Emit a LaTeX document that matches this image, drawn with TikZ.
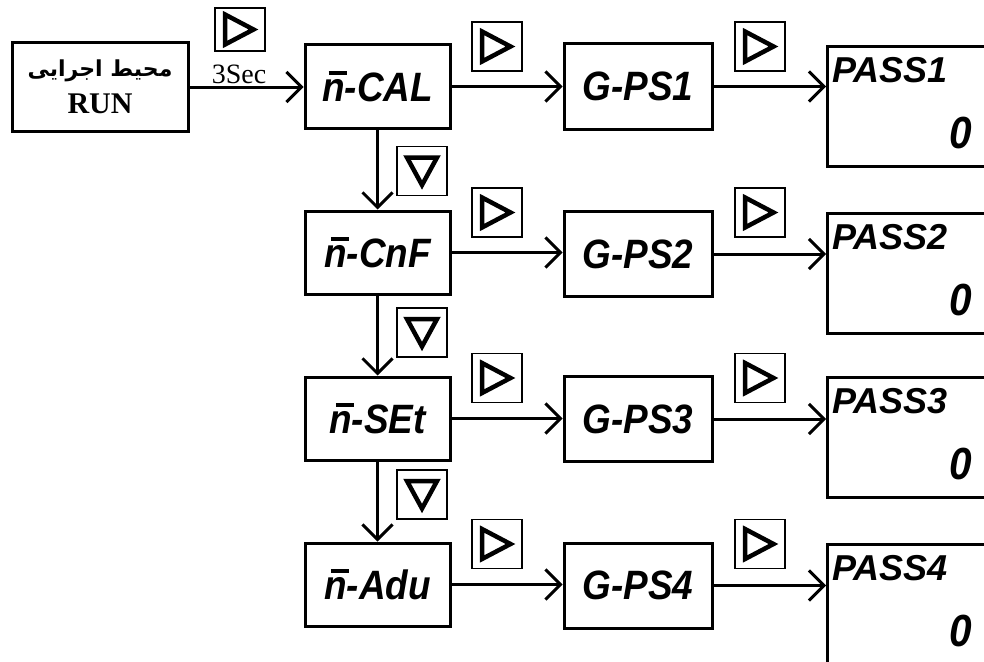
\documentclass[tikz,border=0pt]{standalone}
\usepackage{fontspec}
\usetikzlibrary{arrows.meta,calc}
\TeXXeTstate=1
\setmainfont{Liberation Serif}
\newfontfamily\segfont[FakeStretch=0.9]{Liberation Sans}
\newfontfamily\passfont{Liberation Sans}
\newfontfamily\arabicfont[Script=Arabic]{DejaVu Sans}
\newcommand\mbar{\leavevmode\rlap{\kern0.16em\raisebox{0.66em}{\rule{0.44em}{0.085em}}}n}
\newcommand\rtri[1]{\draw[tri] ([shift={(-15,-15)}]#1.center) -- ([shift={(-15,15)}]#1.center) -- ([shift={(13.5,0)}]#1.center) -- cycle;}
\newcommand\dtri[1]{\draw[tri] ([shift={(-15,-13.5)}]#1.center) -- ([shift={(15,-13.5)}]#1.center) -- ([shift={(0,14)}]#1.center) -- cycle;}
\begin{document}
\begin{tikzpicture}[x=1pt,y=-1pt,
  box/.style={draw, line width=3pt, inner sep=0pt},
  seg/.style={font=\segfont\bfseries\itshape\fontsize{41}{41}\selectfont},
  mbox/.style={box, seg, minimum width=145pt, minimum height=83pt},
  gbox/.style={box, seg, minimum width=148pt, minimum height=85pt},
  pbox/.style={box, anchor=north west, minimum width=190pt, minimum height=120pt},
  ptext/.style={inner sep=0pt, font=\passfont\bfseries\itshape\fontsize{36}{36}\selectfont},
  ztext/.style={inner sep=0pt, font=\segfont\bfseries\itshape\fontsize{45}{45}\selectfont},
  btn/.style={draw=black, line width=1.3pt, minimum width=50pt, minimum height=49pt, inner sep=0pt},
  tri/.style={line width=4.5pt, line join=miter},
  conn/.style={line width=3pt, -{Straight Barb[length=15pt,width=30pt]}},
]
\clip (0,0) rectangle (984,661);
\fill[white] (0,0) rectangle (984,661);

% RUN box
\node[box, minimum width=176pt, minimum height=88pt, align=center] (run) at (100,87)
  {{\arabicfont\bfseries\fontsize{22}{24}\selectfont\beginR محیط اجرایی\endR}\\[11pt]
   {\bfseries\fontsize{30}{30}\selectfont RUN}};

% menu column
\node[mbox] (m1) at (377.5,86.5) {\mbar-CAL};
\node[mbox] (m2) at (377.5,252.5) {\mbar-CnF};
\node[mbox] (m3) at (377.5,418.5) {\mbar-SEt};
\node[mbox] (m4) at (377.5,584.5) {\mbar-Adu};

% G column
\node[gbox] (g1) at (638,86.5) {G-PS1};
\node[gbox] (g2) at (638,254) {G-PS2};
\node[gbox] (g3) at (638,419) {G-PS3};
\node[gbox] (g4) at (638,585.5) {G-PS4};

% PASS column
\node[pbox] (p1) at (826,45) {};
\node[pbox] (p2) at (826,212) {};
\node[pbox] (p3) at (826,376) {};
\node[pbox] (p4) at (826,543) {};
\node[ptext, anchor=west] (p1t) at (832,70) {PASS1};
\node[ptext, anchor=west] (p2t) at (832,237) {PASS2};
\node[ptext, anchor=west] (p3t) at (832,401) {PASS3};
\node[ptext, anchor=west] (p4t) at (832,568) {PASS4};
\node[ztext, anchor=east] (p1z) at (972,133) {0};
\node[ztext, anchor=east] (p2z) at (972,300) {0};
\node[ztext, anchor=east] (p3z) at (972,464) {0};
\node[ztext, anchor=east] (p4z) at (972,631) {0};

% connectors
\draw[conn] (run.east) -- (run.east -| m1.west);
\draw[conn] (m1.east) -- (g1.west);
\draw[conn] (m2.east) -- (m2.east -| g2.west);
\draw[conn] (m3.east) -- (m3.east -| g3.west);
\draw[conn] (m4.east) -- (m4.east -| g4.west);
\draw[conn] (g1.east) -- (g1.east -| p1.west);
\draw[conn] (g2.east) -- (g2.east -| p2.west);
\draw[conn] (g3.east) -- (g3.east -| p3.west);
\draw[conn] (g4.east) -- (g4.east -| p4.west);
\draw[conn] (m1.south) -- (m2.north);
\draw[conn] (m2.south) -- (m3.north);
\draw[conn] (m3.south) -- (m4.north);

% buttons
\node[btn, minimum height=43pt] (b0) at (240,29.5) {};
\node[font=\fontsize{28}{28}\selectfont, inner sep=0pt] (sec) at (239,74) {3Sec};
\node[btn] (r11) at (497,46.5) {};
\node[btn] (r12) at (760,46.5) {};
\node[btn] (r21) at (497,212.5) {};
\node[btn] (r22) at (760,212.5) {};
\node[btn] (r31) at (497,378) {};
\node[btn] (r32) at (760,378) {};
\node[btn] (r41) at (497,544) {};
\node[btn] (r42) at (760,544) {};
\node[btn] (d1) at (422,171) {};
\node[btn] (d2) at (422,332.5) {};
\node[btn] (d3) at (422,494.5) {};
\rtri{b0}
\rtri{r11}\rtri{r12}\rtri{r21}\rtri{r22}
\rtri{r31}\rtri{r32}\rtri{r41}\rtri{r42}
\dtri{d1}\dtri{d2}\dtri{d3}
\end{tikzpicture}
\end{document}
